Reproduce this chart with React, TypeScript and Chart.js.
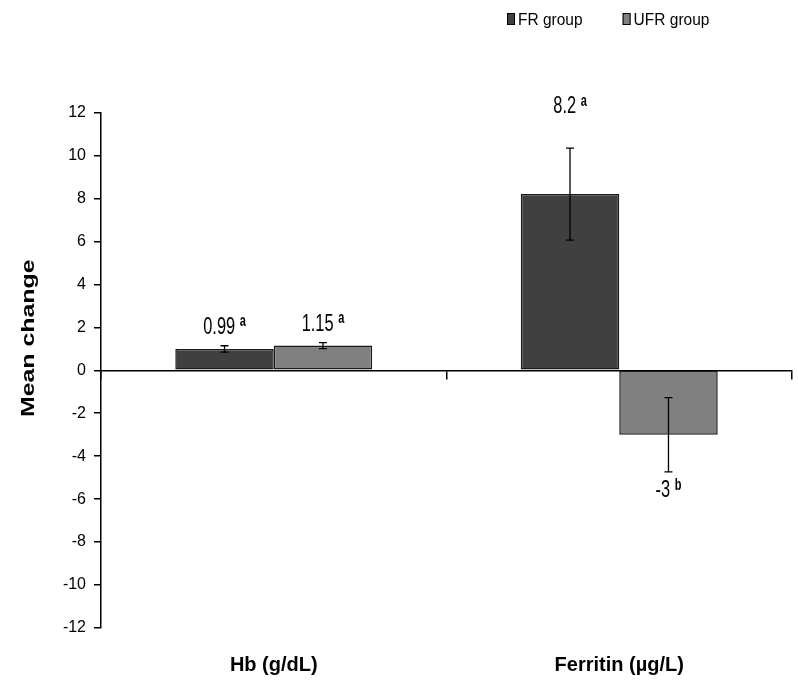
import React, { useEffect, useRef } from "react";
import { Chart, registerables } from "chart.js";

Chart.register(...registerables);

// ---- data ----
const categories = ["Hb (g/dL)", "Ferritin (µg/L)"];
const seriesNames = ["FR group", "UFR group"];
const frValues = [0.99, 8.2];
const ufrValues = [1.15, -3];
const frErrors = [0.15, 2.14];
const ufrErrors = [0.14, 1.73];
const frLetters = ["a", "a"];
const ufrLetters = ["a", "b"];
const yTickValues = [-12, -10, -8, -6, -4, -2, 0, 2, 4, 6, 8, 10, 12];
const yTitle = "Mean change";

// ---- style ----
const ARIAL = "'Liberation Sans', Arial, sans-serif";
const seriesColors = ["#404040", "#808080"];
const labelGaps = [[20, 43], [20, 17]];

const seriesErrors = [frErrors, ufrErrors];
const seriesLetters = [frLetters, ufrLetters];
const seriesValues = [frValues, ufrValues];

const errorBarPlugin = {
  id: "errorBars",
  afterDatasetsDraw(chart: any) {
    const ctx = chart.ctx;
    const y = chart.scales.y;
    ctx.save();
    ctx.strokeStyle = "#000";
    ctx.lineWidth = 1.3;
    chart.data.datasets.forEach((ds: any, i: number) => {
      const meta = chart.getDatasetMeta(i);
      meta.data.forEach((bar: any, j: number) => {
        const v = seriesValues[i][j];
        const e = seriesErrors[i][j];
        const y1 = y.getPixelForValue(v + e);
        const y2 = y.getPixelForValue(v - e);
        const x = bar.x;
        ctx.beginPath();
        ctx.moveTo(x, y1);
        ctx.lineTo(x, y2);
        ctx.moveTo(x - 4, y1);
        ctx.lineTo(x + 4, y1);
        ctx.moveTo(x - 4, y2);
        ctx.lineTo(x + 4, y2);
        ctx.stroke();
      });
    });
    ctx.restore();
  },
};

const dataLabelPlugin = {
  id: "dataLabels",
  afterDatasetsDraw(chart: any) {
    const ctx = chart.ctx;
    const y = chart.scales.y;
    const sy = 1.42;
    const numSize = 16.4;
    const supSize = 11;
    ctx.save();
    ctx.fillStyle = "#000";
    chart.data.datasets.forEach((ds: any, i: number) => {
      const meta = chart.getDatasetMeta(i);
      meta.data.forEach((bar: any, j: number) => {
        const v = seriesValues[i][j];
        const e = seriesErrors[i][j];
        const gap = labelGaps[i][j];
        const cy = v >= 0 ? y.getPixelForValue(v + e) - gap : y.getPixelForValue(v - e) + gap;
        const numText = String(v);
        const sup = seriesLetters[i][j];
        ctx.font = `${numSize}px ${ARIAL}`;
        const wNum = ctx.measureText(numText).width;
        const wSpace = ctx.measureText(" ").width;
        ctx.font = `bold ${supSize}px ${ARIAL}`;
        const wSup = ctx.measureText(sup).width;
        const total = wNum + wSpace + wSup;
        const x0 = bar.x - total / 2;
        ctx.save();
        ctx.translate(0, cy);
        ctx.scale(1, sy);
        ctx.textAlign = "left";
        ctx.textBaseline = "alphabetic";
        ctx.font = `${numSize}px ${ARIAL}`;
        ctx.fillText(numText, x0, 0.358 * numSize);
        ctx.font = `bold ${supSize}px ${ARIAL}`;
        ctx.fillText(sup, x0 + wNum + wSpace, 0.5);
        ctx.restore();
      });
    });
    ctx.restore();
  },
};

const yTitlePlugin = {
  id: "yTitle",
  afterDraw(chart: any) {
    const ctx = chart.ctx;
    const area = chart.chartArea;
    const cy = (area.top + area.bottom) / 2 - 32;
    ctx.save();
    ctx.translate(34, cy);
    ctx.rotate(-Math.PI / 2);
    ctx.scale(1.4, 1);
    ctx.font = `bold 17.8px ${ARIAL}`;
    ctx.fillStyle = "#000";
    ctx.textAlign = "center";
    ctx.textBaseline = "alphabetic";
    ctx.fillText(yTitle, 0, 0);
    ctx.restore();
  },
};

const legendPlugin = {
  id: "customLegend",
  afterDraw(chart: any) {
    const ctx = chart.ctx;
    ctx.save();
    ctx.font = `15.5px ${ARIAL}`;
    let x = 507;
    const top = 13;
    const bw = 8;
    const bh = 12;
    seriesNames.forEach((name, i) => {
      ctx.fillStyle = seriesColors[i];
      ctx.fillRect(x, top, bw, bh);
      ctx.strokeStyle = "#000";
      ctx.lineWidth = 1;
      ctx.strokeRect(x + 0.5, top + 0.5, bw - 1, bh - 1);
      ctx.fillStyle = "#000";
      ctx.textAlign = "left";
      ctx.textBaseline = "alphabetic";
      ctx.save();
      ctx.translate(x + bw + 3, top + bh);
      ctx.scale(1, 1.1);
      ctx.fillText(name, 0, 0);
      ctx.restore();
      x += bw + 3 + ctx.measureText(name).width + 40;
    });
    ctx.restore();
  },
};

export default function App() {
  const canvasRef = useRef<HTMLCanvasElement | null>(null);

  useEffect(() => {
    if (!canvasRef.current) return;
    const chart = new Chart(canvasRef.current, {
      type: "bar",
      data: {
        labels: categories,
        datasets: [
          {
            label: seriesNames[0],
            data: frValues,
            backgroundColor: seriesColors[0],
            borderColor: "#1a1a1a",
            borderWidth: 1.5,
            borderSkipped: false,
            categoryPercentage: 0.57,
            barPercentage: 1.0,
          },
          {
            label: seriesNames[1],
            data: ufrValues,
            backgroundColor: seriesColors[1],
            borderColor: "#1a1a1a",
            borderWidth: 1.5,
            borderSkipped: false,
            categoryPercentage: 0.57,
            barPercentage: 1.0,
          },
        ],
      },
      options: {
        animation: false,
        responsive: true,
        maintainAspectRatio: false,
        devicePixelRatio: 1,
        layout: { padding: { top: 112.5, right: 6, bottom: 0, left: 0 } },
        plugins: {
          legend: { display: false },
          tooltip: { enabled: false },
          title: { display: false },
        },
        scales: {
          x: {
            type: "category",
            position: { y: 0 } as any,
            offset: true,
            z: 1,
            grid: {
              display: true,
              drawOnChartArea: false,
              drawTicks: true,
              tickLength: 8,
              offset: true,
              color: "#000",
              lineWidth: 1.5,
            },
            border: { display: true, color: "#000", width: 1.5 },
            ticks: { display: false },
          },
          xLabels: {
            type: "category",
            axis: "x",
            position: "bottom",
            labels: categories,
            offset: true,
            grid: { display: false, drawTicks: false },
            border: { display: false },
            ticks: {
              color: "#000",
              padding: 25,
              maxRotation: 0,
              autoSkip: false,
              font: { family: ARIAL, size: 20, weight: "bold" },
            },
            afterFit: (s: any) => {
              s.height = 54;
            },
          } as any,
          y: {
            min: -12,
            max: 12,
            afterBuildTicks: (s: any) => {
              s.ticks = yTickValues.map((v) => ({ value: v }));
            },
            grid: {
              drawOnChartArea: false,
              drawTicks: true,
              tickLength: 7,
              color: "#000",
              lineWidth: 1.5,
            },
            border: { display: true, color: "#000", width: 1.5 },
            ticks: {
              color: "#000",
              padding: 8,
              font: { family: ARIAL, size: 16 },
            },
            afterFit: (s: any) => {
              s.width = 101;
            },
          },
        },
      },
      plugins: [errorBarPlugin, dataLabelPlugin, yTitlePlugin, legendPlugin],
    });
    return () => chart.destroy();
  }, []);

  return (
    <div style={{ position: "fixed", left: 0, top: 0, width: 798, height: 682, background: "#fff" }}>
      <canvas ref={canvasRef} />
    </div>
  );
}
